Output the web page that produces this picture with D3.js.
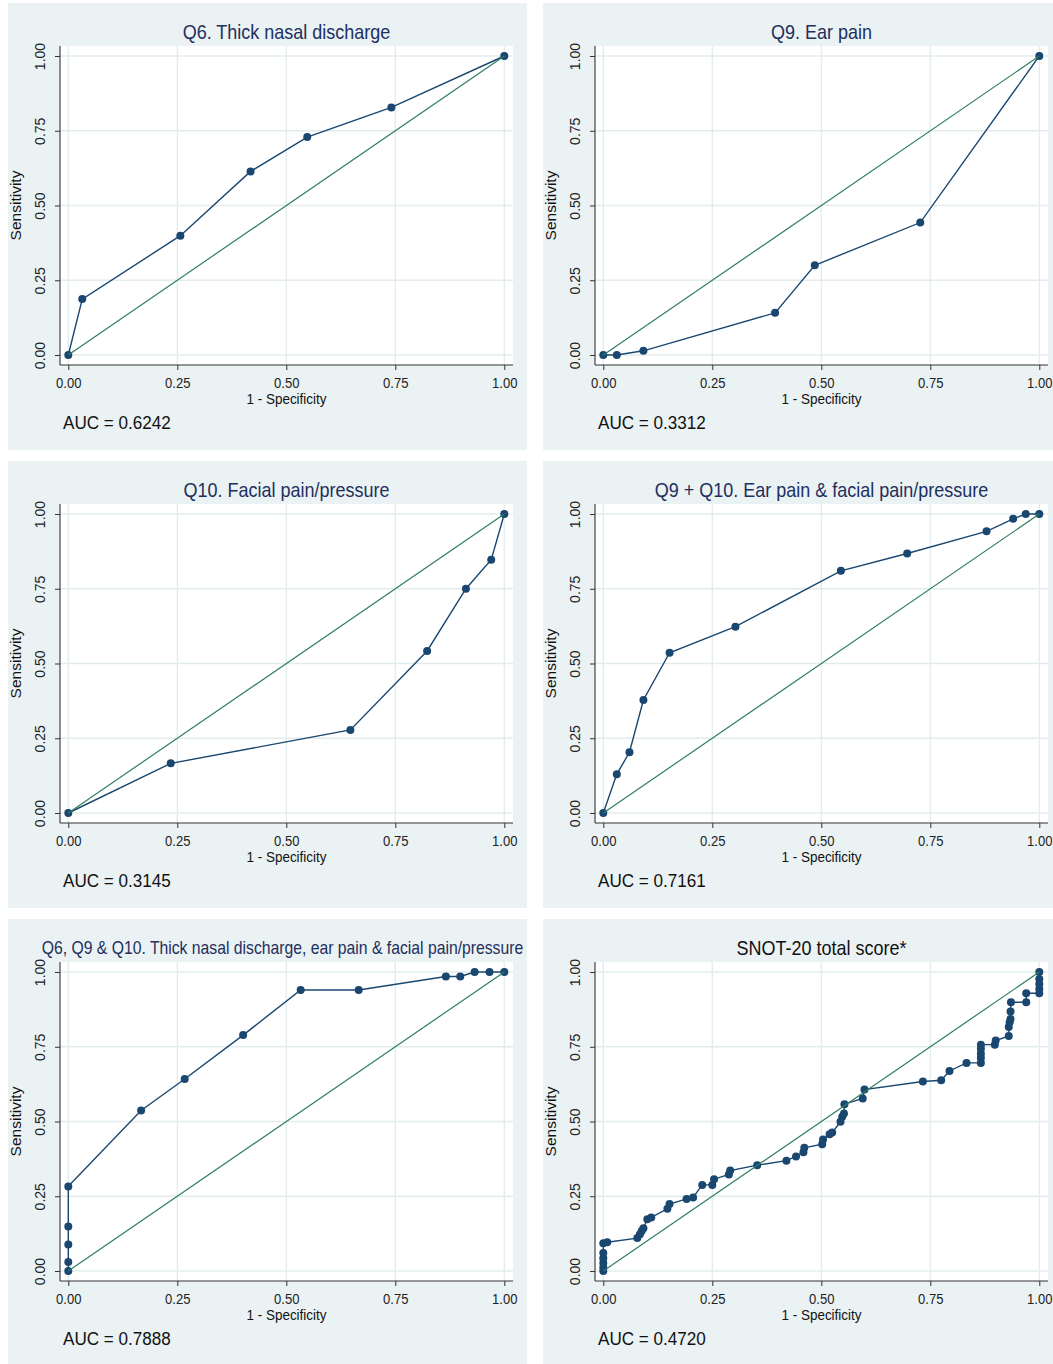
<!DOCTYPE html>
<html><head><meta charset="utf-8">
<script src="https://cdn.jsdelivr.net/npm/d3@7"></script>
<style>html,body{margin:0;padding:0;background:#fff;} svg{display:block;}</style>
</head><body><svg id="chart" width="1053" height="1364"></svg>
<script>
// ---------- DATA ----------
const panelTitles = [
  "Q6. Thick nasal discharge",
  "Q9. Ear pain",
  "Q10. Facial pain/pressure",
  "Q9 + Q10. Ear pain & facial pain/pressure",
  "Q6, Q9 & Q10. Thick nasal discharge, ear pain & facial pain/pressure",
  "SNOT-20 total score*"
];
const aucValues = ["0.6242", "0.3312", "0.3145", "0.7161", "0.7888", "0.4720"];
const tickValues = [0, 0.25, 0.5, 0.75, 1];
const tickLabels = ["0.00", "0.25", "0.50", "0.75", "1.00"];
const xAxisTitle = "1 - Specificity";
const yAxisTitle = "Sensitivity";

const q6Fpr  = [0, 0.032, 0.257, 0.418, 0.548, 0.741, 1];
const q6Sens = [0, 0.187, 0.399, 0.614, 0.729, 0.828, 1];

const q9Fpr  = [0, 0.031, 0.092, 0.394, 0.485, 0.727, 1];
const q9Sens = [0, 0, 0.014, 0.141, 0.300, 0.443, 1];

const q10Fpr  = [0, 0.235, 0.647, 0.823, 0.912, 0.970, 1];
const q10Sens = [0, 0.166, 0.278, 0.542, 0.750, 0.847, 1];

const q9q10Fpr  = [0, 0.031, 0.060, 0.092, 0.152, 0.303, 0.545, 0.697, 0.879, 0.940, 0.969, 1];
const q9q10Sens = [0, 0.130, 0.203, 0.378, 0.536, 0.623, 0.810, 0.868, 0.942, 0.984, 1, 1];

const q6q9q10Fpr  = [0, 0, 0, 0, 0, 0.167, 0.267, 0.401, 0.533, 0.666, 0.866, 0.899, 0.932, 0.966, 1];
const q6q9q10Sens = [0, 0.030, 0.089, 0.149, 0.283, 0.537, 0.642, 0.789, 0.940, 0.940, 0.985, 0.985, 1, 1, 1];

const snotFpr = [0, 0, 0, 0, 0, 0, 0.009,
  0.078, 0.084, 0.088, 0.092, 0.101, 0.110,
  0.147, 0.152, 0.191, 0.206, 0.227, 0.250, 0.254,
  0.288, 0.291, 0.353,
  0.420, 0.442, 0.459, 0.461, 0.502, 0.504, 0.519, 0.525,
  0.544, 0.548, 0.552, 0.553, 0.595, 0.599,
  0.733, 0.775, 0.794, 0.833, 0.866, 0.866, 0.866, 0.866, 0.866,
  0.898, 0.900, 0.930, 0.930, 0.932, 0.934, 0.934, 0.935,
  0.970, 0.970, 1, 1, 1, 1, 1];
const snotSens = [0, 0.012, 0.027, 0.043, 0.060, 0.093, 0.096,
  0.110, 0.123, 0.134, 0.143, 0.173, 0.179,
  0.208, 0.224, 0.241, 0.246, 0.288, 0.288, 0.307,
  0.323, 0.336, 0.354,
  0.369, 0.383, 0.397, 0.412, 0.424, 0.440, 0.457, 0.463,
  0.499, 0.516, 0.527, 0.558, 0.577, 0.607,
  0.634, 0.638, 0.669, 0.696, 0.696, 0.712, 0.727, 0.743, 0.757,
  0.757, 0.771, 0.786, 0.816, 0.832, 0.843, 0.868, 0.899,
  0.899, 0.929, 0.929, 0.943, 0.960, 0.977, 1];

const seriesFpr  = [q6Fpr, q9Fpr, q10Fpr, q9q10Fpr, q6q9q10Fpr, snotFpr];
const seriesSens = [q6Sens, q9Sens, q10Sens, q9q10Sens, q6q9q10Sens, snotSens];

// ---------- DRAWING ----------
const svg = d3.select('#chart');
const FONT = "'Liberation Sans', Arial, Helvetica, sans-serif";
const SX = 0.9;              // horizontal condensation of the reference text
const NAVY = '#1a476f';
const GREEN = '#2f7d64';
const BG = '#eaf2f3';
const GRID = '#e3eced';
const AXIS = '#333333';
const origins = [[8, 3], [543, 3], [8, 461], [543, 461], [8, 919], [543, 919]];
const titleSizes = [20, 20, 20, 20, 17.5, 20];
const titleShift = [0, 0, 0, 0, -4, 0];
const titleColors = ['#1f2f5e', '#1f2f5e', '#1f2f5e', '#1f2f5e', '#1f2f5e', '#111111'];

svg.append('rect').attr('width', 1053).attr('height', 1364).attr('fill', '#fff');

function hText(g, x, y, str, size, color, anchor) {
  return g.append('text')
    .attr('transform', `translate(${x},${y}) scale(${SX},1)`)
    .attr('text-anchor', anchor)
    .attr('dy', '0.35em')
    .attr('font-size', size)
    .attr('font-family', FONT)
    .attr('fill', color)
    .text(str);
}

panelTitles.forEach((title, i) => {
  const [px, py] = origins[i];
  const g = svg.append('g');
  g.append('rect').attr('x', px).attr('y', py).attr('width', 519).attr('height', 447).attr('fill', BG);
  const L = px + 52, R = px + 505, T = py + 43, B = py + 362;
  g.append('rect').attr('x', L).attr('y', T).attr('width', R - L).attr('height', B - T).attr('fill', '#fff');

  const x = d3.scaleLinear().domain([0, 1]).range([px + 60.3, px + 496.3]);
  const y = d3.scaleLinear().domain([0, 1]).range([py + 352, py + 53]);

  // grid
  g.append('g').selectAll('line').data(tickValues).join('line')
    .attr('x1', d => x(d)).attr('x2', d => x(d)).attr('y1', T).attr('y2', B)
    .attr('stroke', GRID).attr('stroke-width', 1.3);
  g.append('g').selectAll('line').data(tickValues).join('line')
    .attr('y1', d => y(d)).attr('y2', d => y(d)).attr('x1', L).attr('x2', R)
    .attr('stroke', GRID).attr('stroke-width', 1.3);

  // y axis
  const ya = g.append('g').attr('transform', `translate(${L},0)`)
    .call(d3.axisLeft(y).tickValues(tickValues).tickFormat((d, j) => tickLabels[j]).tickSize(5).tickSizeOuter(0));
  ya.select('.domain').remove();
  ya.attr('font-size', 14).attr('font-family', FONT);
  ya.selectAll('line').attr('stroke', AXIS);
  ya.selectAll('text').attr('transform', 'rotate(-90)').attr('x', 0).attr('y', -20)
    .attr('dy', '0.35em').attr('text-anchor', 'middle').attr('fill', '#222');
  g.append('line').attr('x1', L).attr('x2', L).attr('y1', T).attr('y2', B).attr('stroke', AXIS).attr('stroke-width', 1.1);

  // x axis
  const xa = g.append('g').attr('transform', `translate(0,${B})`)
    .call(d3.axisBottom(x).tickValues(tickValues).tickFormat((d, j) => tickLabels[j]).tickSize(5).tickSizeOuter(0));
  xa.select('.domain').remove();
  xa.attr('font-size', 14.5).attr('font-family', FONT);
  xa.selectAll('line').attr('stroke', AXIS);
  xa.selectAll('text').attr('y', 18).attr('dy', '0.35em').attr('transform', `scale(${SX},1)`).attr('fill', '#222');
  g.append('line').attr('x1', L).attr('x2', R).attr('y1', B).attr('y2', B).attr('stroke', AXIS).attr('stroke-width', 1.1);

  // axis titles
  hText(g, (L + R) / 2, py + 396, xAxisTitle, 15, '#111', 'middle');
  g.append('text')
    .attr('transform', `translate(${px + 8},${(y(0) + y(1)) / 2}) rotate(-90)`)
    .attr('text-anchor', 'middle').attr('dy', '0.35em')
    .attr('font-size', 15.5).attr('font-family', FONT).attr('fill', '#111')
    .text(yAxisTitle);

  // title
  hText(g, (L + R) / 2 + titleShift[i], py + 29, title, titleSizes[i], titleColors[i], 'middle');
  // AUC
  hText(g, px + 55, py + 419, 'AUC = ' + aucValues[i], 19, '#111', 'start');

  // ROC curve
  const pts = seriesFpr[i].map((f, k) => [f, seriesSens[i][k]]);
  g.append('path').datum(pts)
    .attr('d', d3.line().x(d => x(d[0])).y(d => y(d[1])))
    .attr('fill', 'none').attr('stroke', NAVY).attr('stroke-width', 1.4);
  g.append('g').selectAll('circle').data(pts).join('circle')
    .attr('cx', d => x(d[0])).attr('cy', d => y(d[1])).attr('r', 4).attr('fill', NAVY);

  // reference line
  g.append('line').attr('x1', x(0)).attr('y1', y(0)).attr('x2', x(1)).attr('y2', y(1))
    .attr('stroke', GREEN).attr('stroke-width', 1.2);
});
</script>
</body></html>
